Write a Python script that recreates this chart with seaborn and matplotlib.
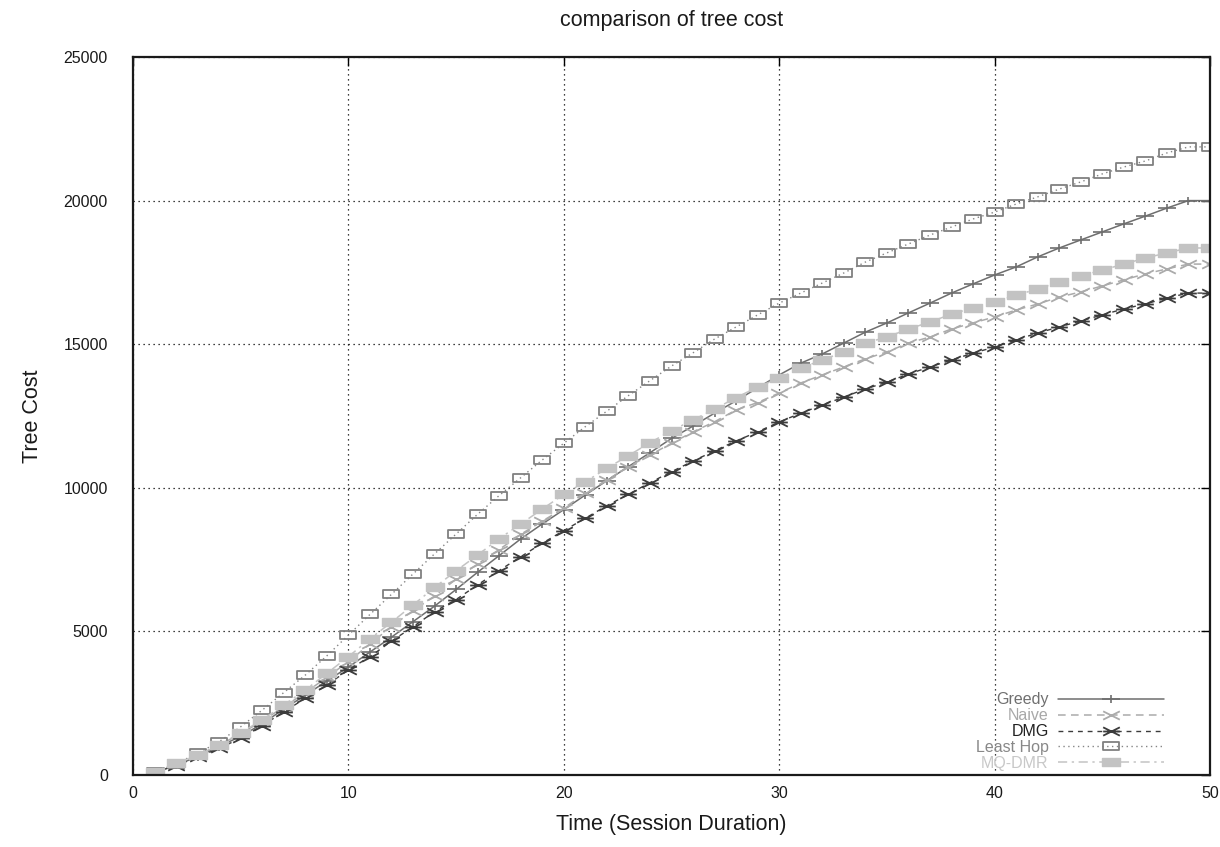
import numpy as np
import pandas as pd
import matplotlib
matplotlib.use("Agg")
import matplotlib.pyplot as plt
from matplotlib.path import Path
import seaborn as sns

sessions = list(range(1, 51))
greedy = [90, 340, 640, 990, 1350, 1780, 2300, 2780, 3270, 3760,
          4280, 4800, 5340, 5880, 6460, 7060, 7640, 8220, 8740, 9240,
          9750, 10250, 10740, 11220, 11720, 12150, 12600, 13030, 13480, 13930,
          14340, 14660, 15040, 15420, 15740, 16090, 16430, 16780, 17100, 17410,
          17690, 18040, 18350, 18630, 18910, 19190, 19460, 19740, 20000, 20000]
naive = [110, 390, 690, 1040, 1440, 1880, 2370, 2870, 3400, 3950,
         4560, 5170, 5720, 6230, 6820, 7350, 7850, 8380, 8840, 9290,
         9810, 10270, 10740, 11140, 11550, 11950, 12300, 12710, 12970, 13300,
         13650, 13930, 14210, 14490, 14730, 15040, 15250, 15530, 15740, 15950,
         16190, 16400, 16640, 16820, 17030, 17240, 17450, 17620, 17790, 17790]
dmg = [90, 330, 620, 930, 1280, 1720, 2200, 2670, 3130, 3660,
       4120, 4660, 5160, 5690, 6110, 6620, 7120, 7600, 8070, 8510,
       8940, 9380, 9770, 10180, 10560, 10930, 11290, 11630, 11950, 12290,
       12600, 12880, 13160, 13440, 13680, 13960, 14210, 14450, 14690, 14900,
       15150, 15390, 15600, 15810, 16020, 16230, 16400, 16610, 16780, 16780]
least_hop = [110, 400, 750, 1160, 1680, 2260, 2870, 3480, 4150, 4870,
             5590, 6290, 7000, 7700, 8390, 9080, 9730, 10350, 10970, 11550,
             12130, 12670, 13210, 13730, 14240, 14700, 15180, 15600, 16020, 16430,
             16780, 17130, 17480, 17860, 18180, 18490, 18800, 19080, 19360, 19600,
             19880, 20130, 20400, 20650, 20930, 21170, 21380, 21660, 21870, 21870]
mq_dmr = [120, 410, 700, 1040, 1470, 1920, 2440, 2960, 3540, 4120,
          4740, 5320, 5920, 6530, 7110, 7660, 8230, 8740, 9260, 9770,
          10210, 10680, 11120, 11570, 11990, 12360, 12740, 13140, 13510, 13820,
          14170, 14450, 14730, 15040, 15250, 15530, 15770, 16050, 16260, 16470,
          16710, 16920, 17170, 17380, 17580, 17790, 18000, 18180, 18350, 18350]

series_names = ["Greedy", "Naive", "DMG", "Least Hop", "MQ-DMR"]
series_values = [greedy, naive, dmg, least_hop, mq_dmr]
x_ticks = [0, 10, 20, 30, 40, 50]
y_ticks = [0, 5000, 10000, 15000, 20000, 25000]

sns.set_style("white")
plt.rcParams["font.family"] = ["Liberation Sans", "DejaVu Sans"]

# wide (gnuplot-like) marker shapes
M, L = Path.MOVETO, Path.LINETO
plus_m = Path([(-1, 0), (1, 0), (0, -0.5), (0, 0.5)], [M, L, M, L])
cross_m = Path([(-1, -0.5), (1, 0.5), (-1, 0.5), (1, -0.5)], [M, L, M, L])
star_m = Path([(-1, -0.5), (1, 0.5), (-1, 0.5), (1, -0.5), (-1, 0), (1, 0)],
              [M, L, M, L, M, L])
rect_m = Path([(-1, -0.5), (1, -0.5), (1, 0.5), (-1, 0.5), (-1, -0.5)],
              [M, L, L, L, Path.CLOSEPOLY])

styles = {
    "Greedy": dict(color="#6e6e6e", linestyle="-", marker=plus_m, mfc="none",
                   mec="#6e6e6e", ms=12.5, mew=1.2, lw=1.1, text="#707070"),
    "Naive": dict(color="#ababab", linestyle=(0, (5, 3.5)), marker=cross_m, mfc="none",
                  mec="#ababab", ms=12, mew=1.3, lw=1.1, text="#a8a8a8"),
    "DMG": dict(color="#3c3c3c", linestyle=(0, (3.5, 3.5)), marker=star_m, mfc="none",
                mec="#3c3c3c", ms=12, mew=1.3, lw=1.0, text="#222222"),
    "Least Hop": dict(color="#858585", linestyle=(0, (1, 2.5)), marker=rect_m, mfc="none",
                      mec="#808080", ms=11.5, mew=1.3, lw=1.0, text="#888888"),
    "MQ-DMR": dict(color="#c3c3c3", linestyle=(0, (6, 3, 1.5, 3)), marker=rect_m, mfc="#c3c3c3",
                   mec="#c3c3c3", ms=12.5, mew=1.0, lw=1.1, text="#c8c8c8"),
}

fig = plt.figure(figsize=(12.2, 8.47), dpi=100)
ax = fig.add_axes([133 / 1220, 1 - 775 / 847, (1210 - 133) / 1220, (775 - 57) / 847])

for name, vals in zip(series_names, series_values):
    st = styles[name]
    df = pd.DataFrame({"Time": sessions, "Cost": vals})
    sns.lineplot(data=df, x="Time", y="Cost", ax=ax, label=name,
                 color=st["color"], linestyle=st["linestyle"], linewidth=st["lw"],
                 marker=st["marker"], markerfacecolor=st["mfc"],
                 markeredgecolor=st["mec"], markersize=st["ms"],
                 markeredgewidth=st["mew"], legend=False)

ax.set_xlim(0, 50)
ax.set_ylim(0, 25000)
ax.set_xticks(x_ticks)
ax.set_yticks(y_ticks)
ax.grid(True, color="black", linestyle=(0, (1, 3)), linewidth=0.9)
ax.tick_params(direction="in", length=6.5, width=1.0, top=True, right=True,
               labelsize=11.5, colors="black")
ax.tick_params(axis="x", pad=8)
ax.tick_params(axis="y", pad=18)
for tl in ax.get_xticklabels() + ax.get_yticklabels():
    tl.set_color("#1a1a1a")
for sp in ax.spines.values():
    sp.set_linewidth(1.6)
    sp.set_color("#1a1a1a")
    sp.set_visible(True)

ax.set_title("comparison of tree cost", fontsize=15.5, pad=22, color="#1a1a1a")
ax.set_xlabel("Time (Session Duration)", fontsize=15.5, labelpad=9.5, color="#1a1a1a")
ax.set_ylabel("Tree Cost", fontsize=15.5, labelpad=15, color="#1a1a1a")

handles, labels = ax.get_legend_handles_labels()
leg = ax.legend(handles, labels, loc="lower right", bbox_to_anchor=(0.957, 0.006),
                frameon=False, markerfirst=False, numpoints=1, fontsize=11.5,
                handlelength=6.6, handletextpad=0.6, labelspacing=0.05,
                borderpad=0, borderaxespad=0)
for t, name in zip(leg.get_texts(), labels):
    t.set_color(styles[name]["text"])

fig.savefig("out.png", dpi=100)
